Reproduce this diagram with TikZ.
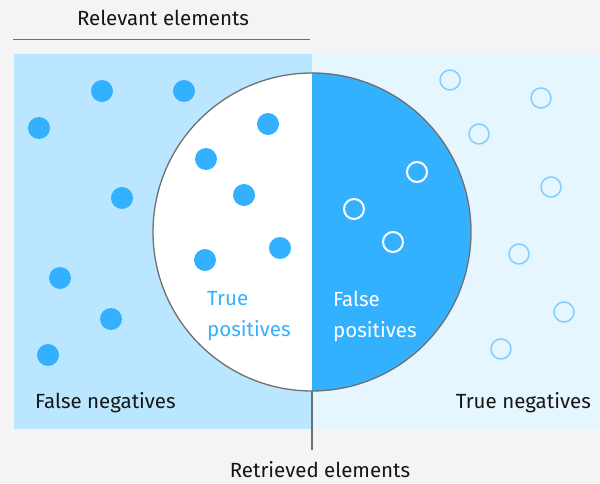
\documentclass[tikz,border=0pt]{standalone}
\usepackage{fontspec}
\setmainfont{Fira Sans}
\usepackage{tikz}
\usetikzlibrary{positioning}

\definecolor{pageGray}{HTML}{F4F4F4}
\definecolor{relBlue}{HTML}{BAE6FF}
\definecolor{paleBlue}{HTML}{E5F6FF}
\definecolor{midBlue}{HTML}{33B1FF}
\definecolor{ringBlue}{HTML}{82CFFF}
\definecolor{rimGray}{HTML}{6F6F6F}
\definecolor{inkGray}{HTML}{161616}

\tikzset{
  label text/.style={font=\fontsize{20.5}{31}\selectfont, text=inkGray, inner sep=0pt},
  full dot/.style={circle, fill=midBlue, minimum size=22pt, inner sep=0pt},
  white ring/.style={circle, draw=white, line width=2pt, minimum size=20pt, inner sep=0pt},
  pale ring/.style={circle, draw=ringBlue, line width=1.5pt, minimum size=20pt, inner sep=0pt}
}

\begin{document}
\begin{tikzpicture}[x=1pt, y=1pt]

    % background and the two halves
    \fill[pageGray] (0,0) rectangle (600,483);
    \useasboundingbox (0,0) rectangle (600,483);
    \fill[relBlue] (14,54) rectangle (312,429);
    \fill[paleBlue] (312,54) rectangle (600,429);

    % retrieved set
    \node (R) [circle, fill=white, minimum size=318pt, inner sep=0pt] at (312,251) {};
    \fill[midBlue] (R.north) arc[start angle=90, end angle=-90, radius=159pt] -- cycle;
    \draw[rimGray, line width=1.3pt] (R.center) circle[radius=159pt];

    % labels on top and bottom
    \node (rel) [label text] at (163,465) {Relevant elements};
    \coordinate (relL) at (13,444);
    \coordinate (relR) at (310,444);
    \draw[rimGray, line width=0.8pt] (relL) -- (relR);

    \node (ret) [label text] at (320,13) {Retrieved elements};
    \coordinate (retTop) at (312,33);
    \draw[rimGray, line width=1.5pt] (R.south) -- (retTop);

    % false negatives
    \begin{scope}[every node/.style={full dot}]
    \node (fn1) at (102,392) {};
    \node (fn2) at (184,392) {};
    \node (fn3) at (39,355) {};
    \node (fn4) at (122,285) {};
    \node (fn5) at (60,205) {};
    \node (fn6) at (111,164) {};
    \node (fn7) at (48,128) {};
    \end{scope}

    % true positives
    \begin{scope}[every node/.style={full dot}]
    \node (tp1) at (268,359) {};
    \node (tp2) at (206,324) {};
    \node (tp3) at (244,288) {};
    \node (tp4) at (280,235) {};
    \node (tp5) at (205,223) {};
    \end{scope}

    % false positives
    \begin{scope}[every node/.style={white ring}]
    \node (fp1) at (417,311) {};
    \node (fp2) at (354,274) {};
    \node (fp3) at (393,241) {};
    \end{scope}

    % true negatives
    \begin{scope}[every node/.style={pale ring}]
    \node (tn1) at (450,403) {};
    \node (tn2) at (541,385) {};
    \node (tn3) at (479,349) {};
    \node (tn4) at (551,296) {};
    \node (tn5) at (519,229) {};
    \node (tn6) at (564,171) {};
    \node (tn7) at (501,134) {};
    \end{scope}

    % texts of the four parts
    \node (tpText) [label text, text=midBlue, align=left, anchor=west] at (207,167) {True\\positives};
    \node (fpText) [label text, text=white, align=left, anchor=west] at (333,167) {False\\positives};
    \node (fnText) [label text, anchor=west] at (35,80) {False negatives};
    \node (tnText) [label text, anchor=east] at (591,80) {True negatives};

\end{tikzpicture}
\end{document}
